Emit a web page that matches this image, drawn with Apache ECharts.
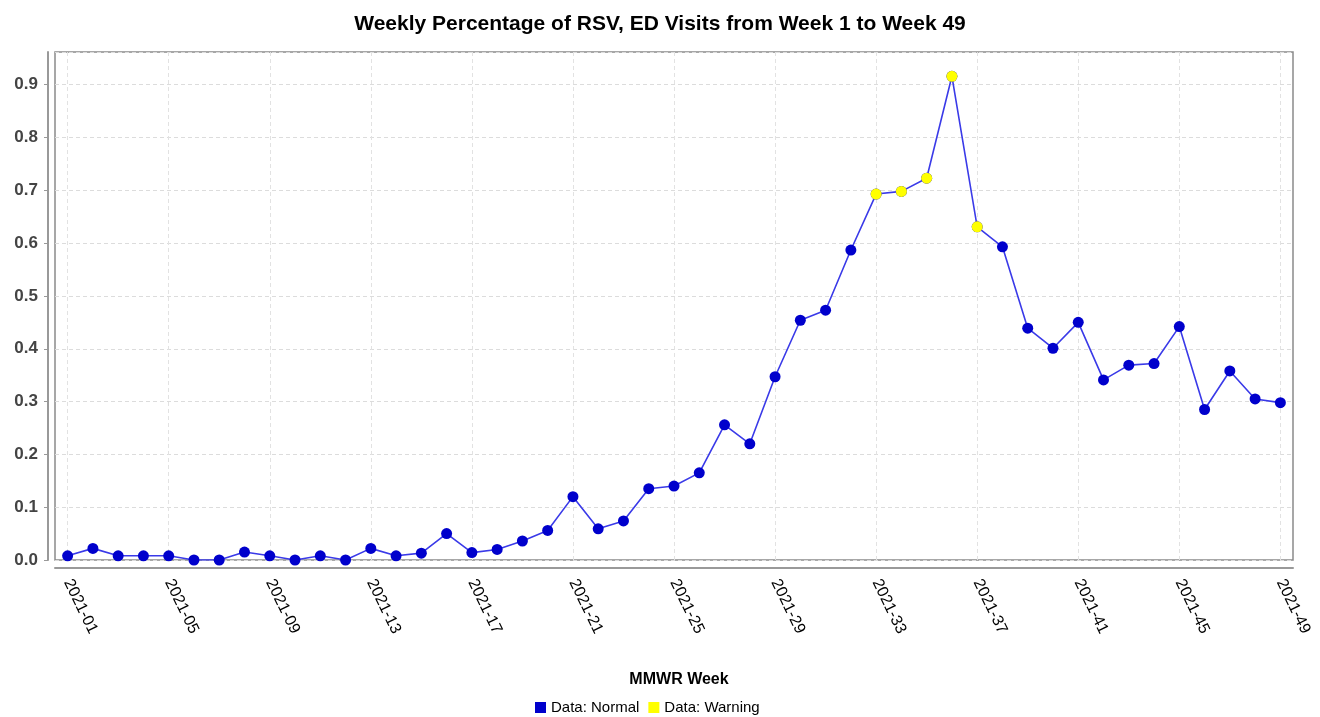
<!DOCTYPE html>
<html>
<head>
<meta charset="utf-8">
<script src="https://cdn.jsdelivr.net/npm/echarts@6/dist/echarts.min.js"></script>
<style>html,body{margin:0;padding:0;background:#fff;}#c{width:1320px;height:717px;}</style>
</head>
<body>
<div id="c"></div>
<script>
const weeks = [];
for (let w = 1; w <= 49; w++) weeks.push('2021-' + (w < 10 ? '0' + w : '' + w));
const values = [0.008,0.022,0.008,0.008,0.008,0.0,0.0,0.015,0.008,0.0,
  0.008,0.0,0.022,0.008,0.013,0.050,0.014,0.020,0.036,0.056,
  0.120,0.059,0.074,0.135,0.140,0.165,0.256,0.220,0.347,0.454,
  0.473,0.587,0.693,0.698,0.723,0.916,0.631,0.593,0.439,0.401,
  0.450,0.341,0.369,0.372,0.442,0.285,0.358,0.305,0.298];
const warningWeeks = ['2021-33','2021-34','2021-35','2021-36','2021-37'];
const titleText = 'Weekly Percentage of RSV, ED Visits from Week 1 to Week 49';

const warnData = weeks.map((w, i) => warningWeeks.includes(w) ? values[i] : null);

const chart = echarts.init(document.getElementById('c'));
chart.setOption({
  animation: false,
  backgroundColor: '#fff',
  title: {
    text: titleText, left: 'center', top: 9,
    textStyle: {fontFamily: 'Liberation Sans', fontWeight: 'bold', fontSize: 21, color: '#000'}
  },
  legend: {
    top: 695, left: 530, itemGap: 9,
    icon: 'rect', itemWidth: 11, itemHeight: 11,
    textStyle: {fontFamily: 'Liberation Sans', fontSize: 15, color: '#000'},
    data: ['Data: Normal', 'Data: Warning']
  },
  grid: {
    left: 55, right: 27, top: 52, bottom: 157,
    show: true, borderColor: '#8a8a8a', borderWidth: 1.5
  },
  xAxis: {
    type: 'category', data: weeks, boundaryGap: true, offset: 8,
    name: 'MMWR Week', nameLocation: 'middle', nameGap: 104,
    nameTextStyle: {fontFamily: 'Liberation Sans', fontWeight: 'bold', fontSize: 16, color: '#000', padding: [0, 0, 0, 10]},
    axisLine: {onZero: false, lineStyle: {color: '#999', width: 2}},
    axisTick: {alignWithLabel: true, interval: 3, length: 5, lineStyle: {color: '#999'}},
    axisLabel: {interval: 3, rotate: -64, margin: 12, fontFamily: 'Liberation Sans', fontSize: 16, color: '#000'},
    splitLine: {show: true, interval: 3, alignWithLabel: true, lineStyle: {color: '#e2e2e2', type: [4, 3]}}
  },
  yAxis: {
    type: 'value', min: 0, max: 0.962, interval: 0.1, offset: 7,
    axisLine: {show: true, lineStyle: {color: '#999', width: 2}},
    axisTick: {show: true, length: 4, lineStyle: {color: '#999'}},
    axisLabel: {
      margin: 10, fontFamily: 'Liberation Sans', fontWeight: 'bold', fontSize: 17, color: '#444',
      showMaxLabel: false,
      formatter: v => v.toFixed(1)
    },
    splitLine: {show: true, lineStyle: {color: '#dcdcdc', type: [4, 3]}}
  },
  series: [
    {
      name: 'Data: Normal', type: 'line', data: values,
      symbol: 'circle', symbolSize: 11,
      lineStyle: {color: '#3a3ae8', width: 1.6},
      itemStyle: {color: '#0000cc'},
      z: 2
    },
    {
      name: 'Data: Warning', type: 'scatter', data: warnData,
      symbol: 'circle', symbolSize: 11,
      itemStyle: {color: '#ffff00', opacity: 1},
      z: 3
    }
  ]
});
</script>
</body>
</html>
